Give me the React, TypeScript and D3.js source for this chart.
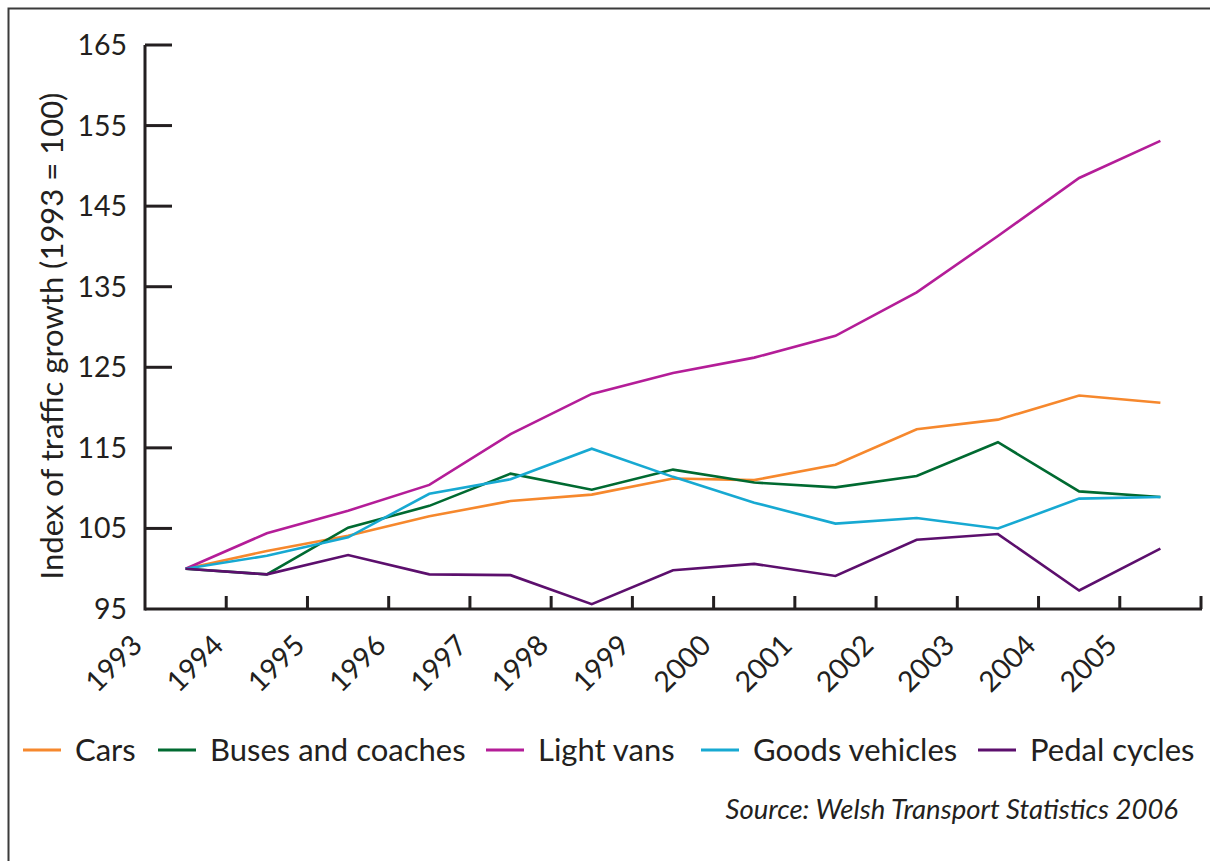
import React, { useEffect, useRef } from 'react';
import * as d3 from 'd3';

const years = ['1993', '1994', '1995', '1996', '1997', '1998', '1999', '2000', '2001', '2002', '2003', '2004', '2005'];

const cars = [100, 102.2, 104.1, 106.5, 108.4, 109.2, 111.2, 111.0, 112.9, 117.3, 118.5, 121.5, 120.6];
const buses = [100, 99.3, 105.1, 107.8, 111.8, 109.8, 112.3, 110.7, 110.1, 111.5, 115.7, 109.6, 108.9];
const lightVans = [100, 104.4, 107.2, 110.4, 116.7, 121.7, 124.3, 126.2, 128.9, 134.3, 141.3, 148.5, 153.1];
const goods = [100, 101.6, 103.9, 109.3, 111.1, 114.9, 111.4, 108.2, 105.6, 106.3, 105.0, 108.7, 108.9];
const pedal = [100, 99.3, 101.7, 99.3, 99.2, 95.6, 99.8, 100.6, 99.1, 103.6, 104.3, 97.3, 102.5];

const yTicks = [95, 105, 115, 125, 135, 145, 155, 165];

const seriesNames = ['Cars', 'Buses and coaches', 'Light vans', 'Goods vehicles', 'Pedal cycles'];
const seriesColors = ['#f6882d', '#006a31', '#b41d98', '#17a9d2', '#5c0f6d'];
const seriesValues = [cars, buses, lightVans, goods, pedal];

// legend swatch starts
const legendX = [23, 158, 486, 701, 978];

const App: React.FC = () => {
  const svgRef = useRef<SVGSVGElement>(null);

  useEffect(() => {
    if (!svgRef.current) return;
    const width = 1210;
    const height = 861;
    const font = 'Lato, "Open Sans", sans-serif';
    const ink = '#231f20';

    const svg = d3.select(svgRef.current).attr('width', width).attr('height', height);
    svg.selectAll('*').remove();

    svg.append('rect')
      .attr('x', 0).attr('y', 0).attr('width', width).attr('height', height)
      .attr('fill', '#fff');

    // frame
    svg.append('rect')
      .attr('x', 8.5).attr('y', 8.5).attr('width', width + 20).attr('height', height + 20)
      .attr('fill', 'none').attr('stroke', '#3b3b3b').attr('stroke-width', 2);

    const x = d3.scaleBand<string>().domain(years).range([145, 1201]).paddingInner(0).paddingOuter(0);
    const y = d3.scaleLinear().domain([95, 165]).range([609, 45]);
    const bw = x.bandwidth();

    // y axis
    svg.append('line')
      .attr('x1', 145).attr('x2', 145).attr('y1', y(165)).attr('y2', y(95) + 1.5)
      .attr('stroke', ink).attr('stroke-width', 3);
    svg.selectAll('.ytick').data(yTicks.filter(t => t > 95)).enter().append('line')
      .attr('x1', 145).attr('x2', 172).attr('y1', d => y(d)).attr('y2', d => y(d))
      .attr('stroke', ink).attr('stroke-width', 3);
    svg.selectAll('.ylab').data(yTicks).enter().append('text')
      .attr('x', 127).attr('y', d => y(d) + 10)
      .attr('text-anchor', 'end')
      .attr('font-family', font).attr('font-size', 28.5).attr('fill', ink)
      .text(d => d);

    // x axis
    svg.append('line')
      .attr('x1', 145).attr('x2', 1202).attr('y1', 609).attr('y2', 609)
      .attr('stroke', ink).attr('stroke-width', 3);
    const edges = years.map(yr => x(yr) as number).concat([(x(years[years.length - 1]) as number) + bw]);
    svg.selectAll('.xtick').data(edges.slice(1)).enter().append('line')
      .attr('x1', d => d).attr('x2', d => d).attr('y1', 609).attr('y2', 596)
      .attr('stroke', ink).attr('stroke-width', 3);
    svg.selectAll('.xlab').data(years).enter().append('text')
      .attr('transform', d => `translate(${(x(d) as number) - 1},647) rotate(-45)`)
      .attr('text-anchor', 'end')
      .attr('font-family', font).attr('font-size', 28.5).attr('fill', ink)
      .text(d => d);

    // y title
    svg.append('text')
      .attr('transform', 'translate(63,336) rotate(-90)')
      .attr('text-anchor', 'middle')
      .attr('font-family', font).attr('font-size', 31).attr('fill', ink)
      .text('Index of traffic growth (1993 = 100)');

    // lines
    const line = d3.line<number>()
      .x((_, i) => (x(years[i]) as number) + bw / 2)
      .y(d => y(d));
    seriesValues.forEach((vals, i) => {
      svg.append('path')
        .datum(vals)
        .attr('fill', 'none')
        .attr('stroke', seriesColors[i])
        .attr('stroke-width', 2.6)
        .attr('stroke-linejoin', 'miter')
        .attr('d', line);
    });

    // legend
    const lg = svg.append('g');
    seriesNames.forEach((name, i) => {
      lg.append('line')
        .attr('x1', legendX[i]).attr('x2', legendX[i] + 38)
        .attr('y1', 750).attr('y2', 750)
        .attr('stroke', seriesColors[i]).attr('stroke-width', 3);
      lg.append('text')
        .attr('x', legendX[i] + 52).attr('y', 761)
        .attr('font-family', font).attr('font-size', 31).attr('fill', ink)
        .text(name);
    });

    svg.append('text')
      .attr('x', 1178).attr('y', 819)
      .attr('text-anchor', 'end')
      .attr('font-family', font).attr('font-size', 27.5).attr('font-style', 'italic').attr('fill', ink)
      .text('Source: Welsh Transport Statistics 2006');
  }, []);

  return (
    <svg ref={svgRef} style={{ position: 'absolute', left: 0, top: 0, display: 'block' }}></svg>
  );
};

export default App;
